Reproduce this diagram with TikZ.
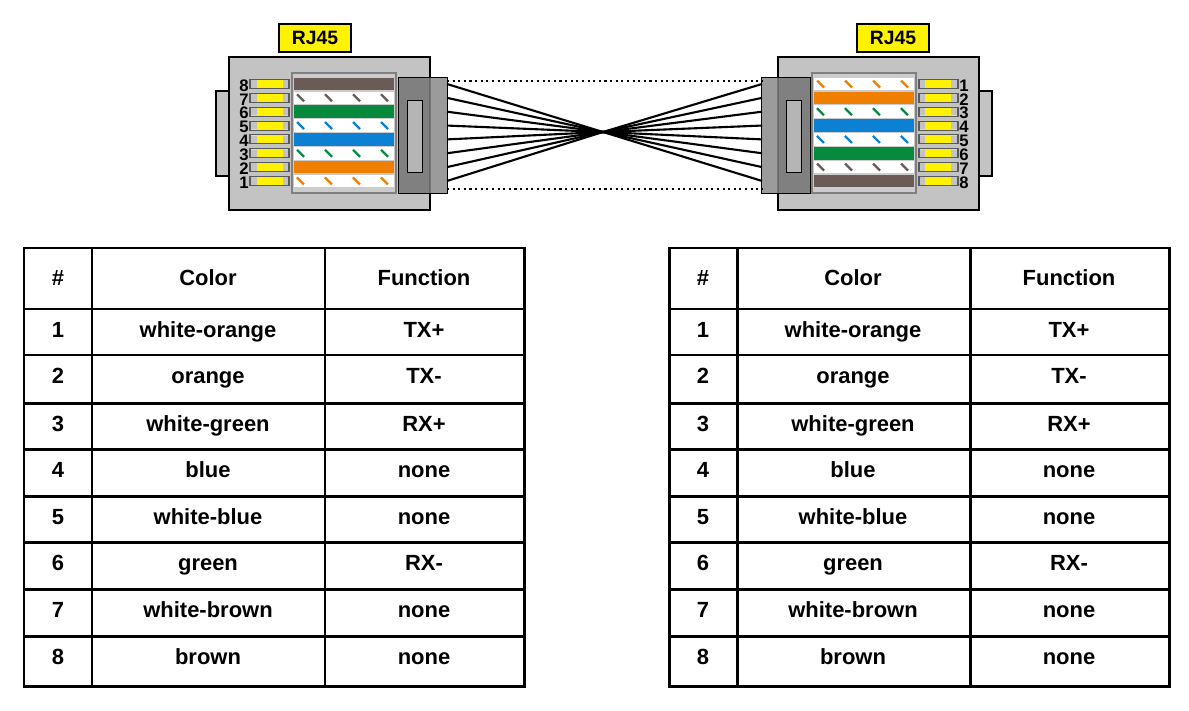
\documentclass[tikz,border=0pt]{standalone}
\usepackage{fontspec}
\setmainfont{Liberation Sans}
\begin{document}
\definecolor{wbrown}{HTML}{6B5B57}
\definecolor{wgreen}{HTML}{078A3E}
\definecolor{wblue}{HTML}{0C80D2}
\definecolor{worange}{HTML}{F07F00}
\definecolor{body}{HTML}{C3C3C3}
\definecolor{boot}{HTML}{8A8A8A}
\begin{tikzpicture}[x=0.02cm,y=-0.02cm,
  tline/.style={line width=1.7pt,black},
  cell/.style={font=\fontsize{12.5}{14}\selectfont\bfseries,inner sep=0pt,text height=1.65ex,text depth=0.45ex},
  pinno/.style={font=\fontsize{9.5}{10}\selectfont\bfseries,inner sep=0pt,text height=1.55ex,text depth=0pt},
  rj/.style={draw=black,line width=1pt,fill=yellow,minimum width=72*0.567pt,minimum height=28*0.567pt,inner sep=0pt,font=\fontsize{11}{12}\selectfont\bfseries},
  wire/.style={line width=1.2pt,black},
  dots/.style={line width=1.2pt,dotted,black}]
\useasboundingbox (0,0) rectangle (1189,710);
\def\pincol#1{\ifcase#1\or worange\or worange\or wgreen\or wblue\or wblue\or wgreen\or wbrown\or wbrown\fi}
% ---------- connectors (mirror about x=604)
\foreach \s in {1,-1}{
  \begin{scope}[shift={({(1-\s)*604},0)},xscale=\s]
    \draw[line width=1pt,fill=body] (216,91) rectangle (229,176);
    \draw[line width=1.2pt,fill=body] (229,57) rectangle (430,210);
    \draw[line width=0.6pt,draw=gray,fill=body!85!white] (292,73) rectangle (396,193);
  \end{scope}
}
% wires and pins
\foreach \k in {1,...,8}{
  \pgfmathsetmacro{\y}{84+(8-\k)*13.85}
  \pgfmathsetmacro{\yr}{84+(\k-1)*13.85}
  \foreach \yy/\xo in {\y/294,\yr/814}{
    \ifodd\k
      \fill[white] (\xo,\yy-6.3) rectangle (\xo+100,\yy+6.3);
      \foreach \dx in {3,31,59,87}
        \draw[line width=1.3pt,draw=\pincol{\k}] (\xo+\dx,\yy-3.5) -- (\xo+\dx+7,\yy+3.5);
    \else
      \fill[\pincol{\k}] (\xo,\yy-6.3) rectangle (\xo+100,\yy+6.3);
    \fi
  }
  \foreach \yy/\s in {\y/1,\yr/-1}{
    \begin{scope}[shift={({(1-\s)*604},0)},xscale=\s]
      \draw[line width=0.6pt,fill=yellow,draw=gray!70!black] (250,\yy-4.5) rectangle (289,\yy+4.5);
      \fill[body] (251,\yy-3.7) rectangle (257,\yy+3.7);
      \fill[body] (283,\yy-3.7) rectangle (288.3,\yy+3.7);
    \end{scope}
  }
  \node[pinno,anchor=east] (nl\k) at (249,\y) {\k};
  \node[pinno,anchor=west] (nr\k) at (959,\yr) {\k};
}
% boots
\foreach \s in {1,-1}{
  \begin{scope}[shift={({(1-\s)*604},0)},xscale=\s]
    \fill[boot,opacity=0.85] (398,77) rectangle (447,193);
    \fill[black,opacity=0.12] (398,77) rectangle (430,193);
    \draw[line width=0.5pt] (398,77) rectangle (447,193);
    \draw[line width=0.5pt,fill=body!80!gray] (407,100) rectangle (422,172);
  \end{scope}
}
% crossing wires
\coordinate (X) at (603,132);
\foreach \i in {0,...,7}{
  \pgfmathsetmacro{\y}{84+\i*13.85}
  \coordinate (wl\i) at (447,\y);
  \coordinate (wr\i) at (762,\y);
  \draw[wire] (wl\i) -- (X) -- (wr\i);
}
\coordinate (dl1) at (447,81); \coordinate (dr1) at (762,81);
\coordinate (dl2) at (447,189); \coordinate (dr2) at (762,189);
\draw[dots] (dl1) -- (dr1);
\draw[dots] (dl2) -- (dr2);
\node[rj] (rjl) at (315,38) {RJ45};
\node[rj] (rjr) at (893,38) {RJ45};
% ---------- tables
\def\colors{{"white-orange","orange","white-green","blue","white-blue","green","white-brown","brown"}}
\def\funcs{{"TX+","TX-","RX+","none","none","RX-","none","none"}}
\foreach \T/\x in {a/24,b/669}{
  \begin{scope}[shift={(\x-24,0)}]
    \draw[tline] (24,248) rectangle (524,686);
    \foreach \yy in {309,355,403,449,496,542,589,636} \draw[tline] (24,\yy) -- (524,\yy);
    \draw[tline] (92,248) -- (92,686);
    \draw[tline] (325,248) -- (325,686);
    \node[cell] (\T h1) at (58,280) {\#};
    \node[cell] (\T h2) at (208,280) {Color};
    \node[cell] (\T h3) at (424,280) {Function};
    \foreach \r/\yc in {1/332,2/378,3/426,4/472,5/519,6/565,7/612,8/659}{
      \pgfmathsetmacro{\cname}{\colors[\r-1]}
      \pgfmathsetmacro{\fname}{\funcs[\r-1]}
      \node[cell] (\T n\r) at (58,\yc) {\r};
      \node[cell] (\T c\r) at (208,\yc) {\cname};
      \node[cell] (\T f\r) at (424,\yc) {\fname};
    }
  \end{scope}
}
\end{tikzpicture}
\end{document}
